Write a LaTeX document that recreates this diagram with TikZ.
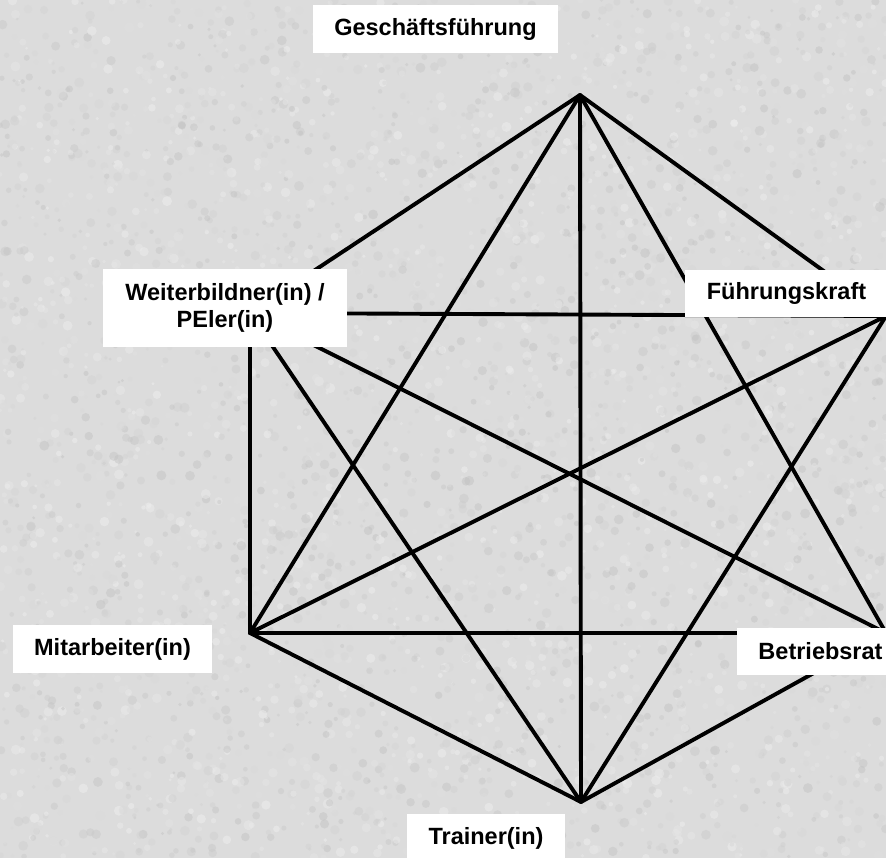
\documentclass[tikz,border=0pt]{standalone}
\usepackage{fontspec}
\setmainfont{Liberation Sans}
\definecolor{bgbase}{RGB}{220,220,220}
\definecolor{spklight}{RGB}{242,242,242}
\definecolor{spkdark}{RGB}{192,192,192}
\begin{document}
\begin{tikzpicture}[x=1pt,y=-1pt,
  edge/.style={line width=3.9pt, black, line cap=round},
  lbl/.style={fill=white, inner sep=0pt, align=center,
    font=\bfseries\fontsize{23.5}{27}\selectfont}]
\useasboundingbox (0,0) rectangle (886,858);
\clip (0,0) rectangle (886,858);
% textured background
\fill[bgbase] (0,0) rectangle (886,858);
\pgfmathsetseed{17}
\foreach \i in {1,...,4500}{
  \pgfmathsetmacro\xx{rnd*886}
  \pgfmathsetmacro\yy{rnd*858}
  \pgfmathsetmacro\rr{1.5+rnd*3.5}
  \pgfmathsetmacro\gg{rnd*100}
  \fill[spklight!\gg!spkdark, opacity=0.45] (\xx,\yy) circle (\rr);
}
% vertices
\coordinate (T)  at (580,95);
\coordinate (UL) at (250,313);
\coordinate (UR) at (886,316);
\coordinate (LL) at (250,633);
\coordinate (LR) at (886,633);
\coordinate (B)  at (581,802);
% edges
\draw[edge] (T) -- (UL);
\draw[edge] (T) -- (UR);
\draw[edge] (T) -- (LL);
\draw[edge] (T) -- (LR);
\draw[edge] (T) -- (B);
\draw[edge] (UL) -- (UR);
\draw[edge] (UL) -- (LL);
\draw[edge] (UL) -- (LR);
\draw[edge] (UL) -- (B);
\draw[edge] (UR) -- (LL);
\draw[edge] (UR) -- (B);
\draw[edge] (LL) -- (LR);
\draw[edge] (LL) -- (B);
\draw[edge] (LR) -- (B);
% labels
\node[lbl, minimum width=245pt, minimum height=48pt] (gf) at (435.5,29) {Geschäftsführung};
\node[lbl, minimum width=244pt, minimum height=78pt] (wb) at (225,308) {Weiterbildner(in) /\\PEler(in)};
\node[lbl, minimum width=203pt, minimum height=47pt] (fk) at (786.5,293.5) {Führungskraft};
\node[lbl, minimum width=199pt, minimum height=48pt] (ma) at (112.5,649) {Mitarbeiter(in)};
\node[lbl, minimum width=167pt, minimum height=47pt] (br) at (820.5,651.5) {Betriebsrat};
\node[lbl, minimum width=158pt, minimum height=48pt] (tr) at (486,838) {Trainer(in)};
\end{tikzpicture}
\end{document}
